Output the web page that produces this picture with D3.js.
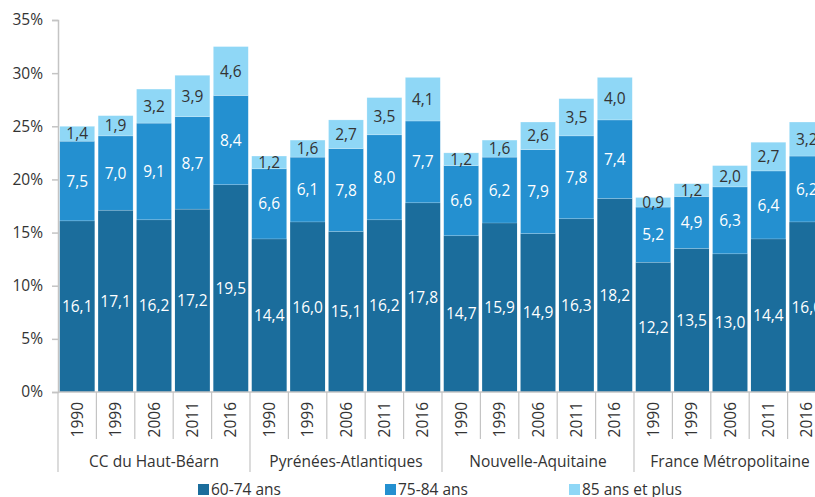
<!DOCTYPE html>
<html><head><meta charset="utf-8">
<script src="https://cdn.jsdelivr.net/npm/d3@7"></script>
<style>body{margin:0;background:#fff}svg{font-family:"Open Sans",sans-serif}</style>
</head><body><svg id="c" width="815" height="497"></svg>
<script>
const groups = ["CC du Haut-Béarn","Pyrénées-Atlantiques","Nouvelle-Aquitaine","France Métropolitaine"];
const years = ["1990","1999","2006","2011","2016"];
const seriesNames = ["60-74 ans","75-84 ans","85 ans et plus"];
const s6074 = [16.1,17.1,16.2,17.2,19.5, 14.4,16.0,15.1,16.2,17.8, 14.7,15.9,14.9,16.3,18.2, 12.2,13.5,13.0,14.4,16.0];
const s7584 = [7.5,7.0,9.1,8.7,8.4, 6.6,6.1,7.8,8.0,7.7, 6.6,6.2,7.9,7.8,7.4, 5.2,4.9,6.3,6.4,6.2];
const s85 = [1.4,1.9,3.2,3.9,4.6, 1.2,1.6,2.7,3.5,4.1, 1.2,1.6,2.6,3.5,4.0, 0.9,1.2,2.0,2.7,3.2];
const yTicks = [0,5,10,15,20,25,30,35];
const colors = ["#1b6d9c","#2490d0","#8fd7f6"];
const labelColors = ["#fff","#fff","#333"];

const svg = d3.select("#c");
const x0 = 58, bandW = 38.4, FS = 15.5;
const cats = [];
groups.forEach(g=>years.forEach(y=>cats.push(g+"|"+y)));
const x = d3.scaleBand().domain(cats).range([x0, x0 + bandW*cats.length]).paddingInner(0.09).paddingOuter(0.045);
const y = d3.scaleLinear().domain([0,35]).range([392,20]);

// y axis
const ya = svg.append("g").attr("transform",`translate(${x0},0)`)
  .call(d3.axisLeft(y).tickValues(yTicks).tickFormat(d=>d+"%").tickSize(6).tickPadding(9));
ya.select(".domain").attr("stroke","#c4c4c4").attr("stroke-width",1.5);
ya.selectAll(".tick line").attr("stroke","#c4c4c4").attr("stroke-width",1.5);
ya.selectAll("text").attr("font-size",FS).attr("fill","#333").attr("font-family","Open Sans");

// bars
const data = cats.map((c,i)=>({c, v:[s6074[i],s7584[i],s85[i]]}));
data.forEach(d=>{
  let acc=0;
  d.v.forEach((v,k)=>{
    const y0=acc, y1=acc+v; acc=y1;
    svg.append("rect").attr("x",x(d.c)).attr("width",x.bandwidth())
      .attr("y",y(y1)).attr("height",y(y0)-y(y1)).attr("fill",colors[k])
      .attr("stroke", k>0 ? "rgba(255,255,255,0.35)" : "none").attr("stroke-width",0.6);
    svg.append("text").attr("x",x(d.c)+x.bandwidth()/2).attr("y",(y(y0)+y(y1))/2)
      .attr("dy","0.36em").attr("text-anchor","middle").attr("font-size",FS)
      .attr("fill",labelColors[k]).text(v.toFixed(1).replace(".",","));
  });
});

// bottom axis line
svg.append("line").attr("x1",x0).attr("x2",815).attr("y1",392).attr("y2",392).attr("stroke","#c4c4c4").attr("stroke-width",1.5);
// category separators
cats.forEach((c,i)=>{
  const xs = x0 + i*bandW;
  const big = i%5===0;
  svg.append("line").attr("x1",xs).attr("x2",xs).attr("y1",392).attr("y2",big?472:439)
    .attr("stroke","#c4c4c4").attr("stroke-width",1.2);
  svg.append("text").attr("transform",`translate(${x(c)+x.bandwidth()/2+5.5},402) rotate(-90)`)
    .attr("text-anchor","end").attr("font-size",FS).attr("fill","#333").text(c.split("|")[1]);
});
groups.forEach((g,i)=>{
  svg.append("text").attr("x",x0 + i*5*bandW + 2.5*bandW).attr("y",467).attr("text-anchor","middle")
    .attr("font-size",FS).attr("fill","#333").text(g);
});
// legend
const lx = [198,385,569];
seriesNames.forEach((n,k)=>{
  svg.append("rect").attr("x",lx[k]).attr("y",484).attr("width",11).attr("height",11).attr("fill",colors[k]);
  svg.append("text").attr("x",lx[k]+13).attr("y",495).attr("font-size",FS).attr("fill","#333").text(n);
});
</script></body></html>
